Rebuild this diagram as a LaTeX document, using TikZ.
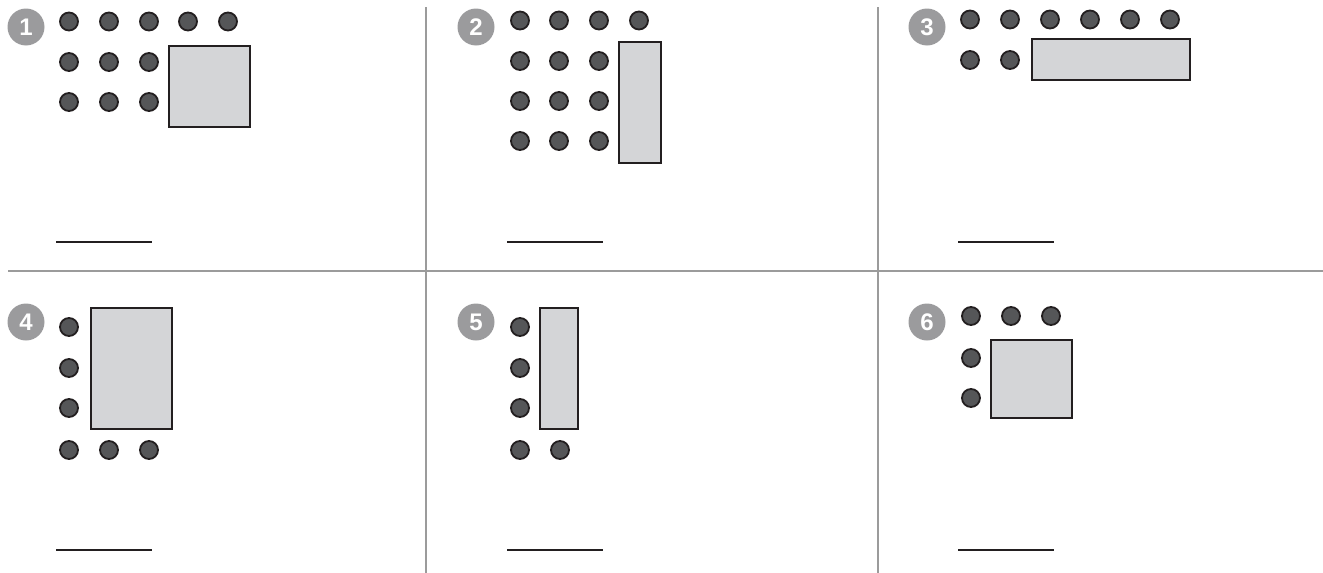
\documentclass[tikz,border=0pt]{standalone}
\usepackage{fontspec}
\setmainfont{Liberation Sans}
\definecolor{gridgray}{RGB}{155,155,155}
\definecolor{badgegray}{RGB}{155,155,157}
\definecolor{dotfill}{RGB}{85,86,88}
\definecolor{boxfill}{RGB}{212,213,215}
\definecolor{ink}{RGB}{35,31,32}
\tikzset{
  dotnode/.style={circle,draw=ink,fill=dotfill,line width=1.8pt,minimum size=18pt,inner sep=0pt},
  boxnode/.style={draw=ink,fill=boxfill,line width=2pt,inner sep=0pt},
  badge/.style={circle,fill=badgegray,minimum size=37pt,inner sep=0pt,text=white,font=\fontsize{24}{24}\selectfont\bfseries},
  gridline/.style={draw=gridgray,line width=2pt},
  ansline/.style={draw=ink,line width=2pt}
}
\begin{document}
\begin{tikzpicture}[x=1pt,y=-1pt]
\useasboundingbox (0,0) rectangle (1323,573);
% grid
\coordinate (v1t) at (426,7); \coordinate (v1b) at (426,573);
\coordinate (v2t) at (878,7); \coordinate (v2b) at (878,573);
\coordinate (hl) at (8,270.5); \coordinate (hr) at (1323,270.5);
\draw[gridline] (v1t) -- (v1b);
\draw[gridline] (v2t) -- (v2b);
\draw[gridline] (hl) -- (hr);
% badges
\node[badge] (b1) at (26,27) {1};
\node[badge] (b2) at (476,27) {2};
\node[badge] (b3) at (927,27) {3};
\node[badge] (b4) at (26,322) {4};
\node[badge] (b5) at (476,322) {5};
\node[badge] (b6) at (927,322) {6};
% panel 1
\foreach \i/\x in {1/69,2/109,3/149,4/188,5/228} \node[dotnode] (p1a\i) at (\x,21.5) {};
\foreach \i/\x in {1/69,2/109,3/149} {\node[dotnode] (p1b\i) at (\x,62) {}; \node[dotnode] (p1c\i) at (\x,102) {};}
\node[boxnode,minimum width=81pt,minimum height=81pt] (r1) at (209,86) {};
% panel 2
\foreach \i/\x in {1/520,2/559,3/599,4/639} \node[dotnode] (p2a\i) at (\x,20.5) {};
\foreach \i/\x in {1/520,2/559,3/599} {\node[dotnode] (p2b\i) at (\x,61) {}; \node[dotnode] (p2c\i) at (\x,101) {}; \node[dotnode] (p2d\i) at (\x,141) {};}
\node[boxnode,minimum width=42pt,minimum height=121pt] (r2) at (640,102.5) {};
% panel 3
\foreach \i/\x in {1/970,2/1010,3/1050,4/1090,5/1130,6/1170} \node[dotnode] (p3a\i) at (\x,19.5) {};
\foreach \i/\x in {1/970,2/1010} \node[dotnode] (p3b\i) at (\x,60) {};
\node[boxnode,minimum width=158pt,minimum height=41pt] (r3) at (1111,59.5) {};
% panel 4
\foreach \i/\y in {1/327,2/368,3/408} \node[dotnode] (p4a\i) at (69,\y) {};
\foreach \i/\x in {1/69,2/109,3/149} \node[dotnode] (p4b\i) at (\x,450) {};
\node[boxnode,minimum width=81pt,minimum height=121pt] (r4) at (131.5,368.5) {};
% panel 5
\foreach \i/\y in {1/327,2/368,3/408} \node[dotnode] (p5a\i) at (520,\y) {};
\foreach \i/\x in {1/520,2/560} \node[dotnode] (p5b\i) at (\x,450) {};
\node[boxnode,minimum width=38pt,minimum height=121pt] (r5) at (559,368.5) {};
% panel 6
\foreach \i/\x in {1/971,2/1011,3/1051} \node[dotnode] (p6a\i) at (\x,316) {};
\foreach \i/\y in {1/358,2/398} \node[dotnode] (p6b\i) at (971,\y) {};
\node[boxnode,minimum width=81pt,minimum height=78pt] (r6) at (1031.5,379) {};
% answer lines
\coordinate (a1l) at (56,242); \coordinate (a1r) at (152,242);
\coordinate (a2l) at (507,242); \coordinate (a2r) at (603,242);
\coordinate (a3l) at (958,242); \coordinate (a3r) at (1054,242);
\coordinate (a4l) at (56,550); \coordinate (a4r) at (152,550);
\coordinate (a5l) at (507,550); \coordinate (a5r) at (603,550);
\coordinate (a6l) at (958,550); \coordinate (a6r) at (1054,550);
\foreach \k in {1,...,6} \draw[ansline] (a\k l) -- (a\k r);
\end{tikzpicture}
\end{document}
